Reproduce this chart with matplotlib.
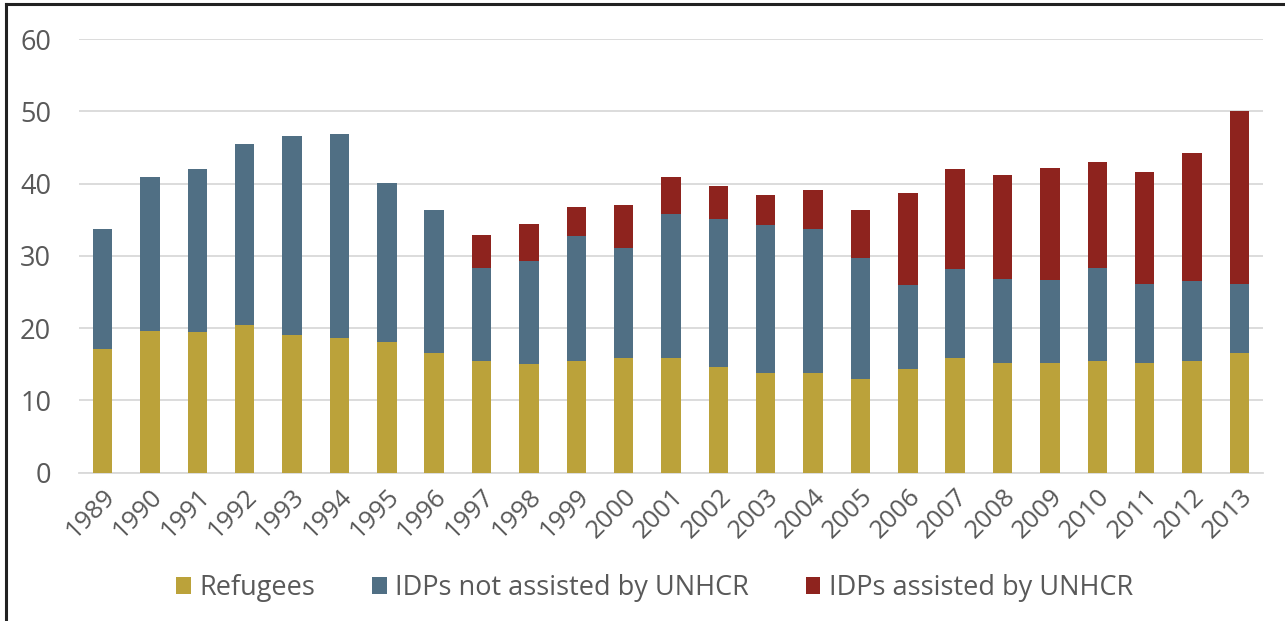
import numpy as np
import matplotlib
matplotlib.use('Agg')
from matplotlib import pyplot as plt
from matplotlib.lines import Line2D

plt.rcParams['font.family'] = ['Open Sans', 'DejaVu Sans']

years = [str(y) for y in range(1989, 2014)]

# stacked segments (millions)
refugees = [17.1, 19.6, 19.5, 20.5, 19.1, 18.7, 18.1, 16.6, 15.4, 15.1, 15.4, 15.9,
            15.9, 14.6, 13.8, 13.8, 13.0, 14.3, 15.9, 15.2, 15.2, 15.5, 15.2, 15.4, 16.6]
idps_not_assisted = [16.6, 21.3, 22.5, 25.0, 27.5, 28.1, 22.0, 19.7, 12.9, 14.2, 17.3, 15.2,
                     19.9, 20.5, 20.4, 19.9, 16.7, 11.6, 12.3, 11.6, 11.4, 12.8, 10.9, 11.1, 9.5]
idps_assisted = [0, 0, 0, 0, 0, 0, 0, 0, 4.6, 5.1, 4.0, 6.0,
                 5.1, 4.5, 4.2, 5.4, 6.7, 12.8, 13.8, 14.4, 15.6, 14.7, 15.5, 17.7, 23.9]

c_ref = '#bba23a'
c_not = '#506f84'
c_ass = '#8e231e'
txt = '#595959'

fig = plt.figure(figsize=(12.85, 6.21), dpi=100)
ax = fig.add_axes([79/1285, 1-472.7/621, (1263-79)/1285, (472.7-39)/621])

x = np.arange(len(years))
w = 0.41
ref = np.array(refugees)
nota = np.array(idps_not_assisted)
ass = np.array(idps_assisted)
ax.bar(x, ref, w, color=c_ref, label='Refugees', zorder=3)
ax.bar(x, nota, w, bottom=ref, color=c_not, label='IDPs not assisted by UNHCR', zorder=3)
ax.bar(x, ass, w, bottom=ref + nota, color=c_ass, label='IDPs assisted by UNHCR', zorder=3)

ax.set_xlim(-0.5, len(years) - 0.5)
ax.set_ylim(0, 60)
ax.set_yticks(range(0, 61, 10))
ax.yaxis.grid(True, color='#d9d9d9', linewidth=1.3, zorder=0)
for s in ['top', 'right', 'left']:
    ax.spines[s].set_visible(False)
ax.spines['bottom'].set_color('#d9d9d9')
ax.spines['bottom'].set_linewidth(1.3)
ax.tick_params(axis='both', length=0, colors=txt)
ax.tick_params(axis='y', labelsize=19.5, pad=20)
ax.set_xticks(x)
ax.set_xticklabels(years, rotation=45, ha='right', rotation_mode='anchor', fontsize=18.5)
ax.tick_params(axis='x', pad=8)

leg = ax.legend(loc='center', bbox_to_anchor=(0.486, (472.7-588)/(472.7-39)), ncol=3,
                frameon=False, fontsize=19.5, handlelength=0.55, handleheight=0.55,
                handletextpad=0.3, columnspacing=2.1)
for t in leg.get_texts():
    t.set_color(txt)

# outer frame (left and top edge of the box)
fig.add_artist(Line2D([6/1285, 6/1285], [0, 1-3.5/621], color='#222222', linewidth=2.2))
fig.add_artist(Line2D([6/1285, 1], [1-3.5/621, 1-3.5/621], color='#222222', linewidth=2.2))

plt.savefig('out.png', dpi=100)
